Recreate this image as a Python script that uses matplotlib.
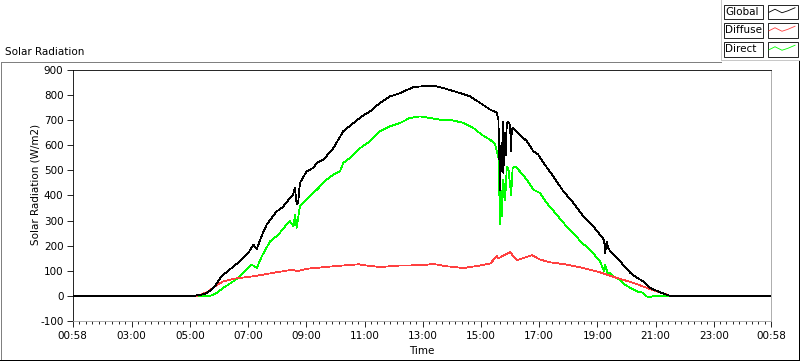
import matplotlib
matplotlib.use("Agg")
import matplotlib.pyplot as plt
from matplotlib.lines import Line2D
from matplotlib.patches import Rectangle
import numpy as np

# ---- data (hours of day, W/m2) ----
global_t = [0.97, 5.11, 5.30, 5.50, 5.58, 5.75, 5.86, 5.95, 6.09, 6.40, 6.72, 7.00, 7.18, 7.30, 7.45,
            7.64, 7.98, 8.10, 8.21, 8.44, 8.55, 8.61, 8.67, 8.72, 8.78, 9.01, 9.24, 9.36, 9.59, 9.64,
            9.93, 10.27, 10.62, 10.90, 11.19, 11.53, 11.88, 12.22, 12.68, 13.00, 13.37, 13.83, 14.29,
            14.63, 14.97, 15.32, 15.54, 15.60, 15.66, 15.70, 15.72, 15.75, 15.77, 15.82, 15.85, 15.89,
            15.94, 16.00, 16.04, 16.06, 16.09, 16.17, 16.34, 16.58, 16.80, 16.97, 17.15, 17.49, 17.83,
            18.18, 18.52, 18.75, 18.86, 19.09, 19.23, 19.27, 19.32, 19.38, 19.44, 19.55, 19.78, 20.13,
            20.36, 20.58, 20.81, 21.16, 21.50, 24.97]
global_v = [0, 0, 3, 8, 12, 25, 38, 55, 78, 108, 138, 170, 204, 187, 235,
            284, 337, 345, 357, 390, 405, 430, 364, 370, 450, 496, 510, 530, 543, 550,
            589, 656, 689, 715, 735, 769, 795, 808, 832, 835, 838, 824, 808,
            795, 769, 742, 731, 702, 423, 600, 503, 695, 490, 650, 560, 689,
            695, 680, 576, 665, 669, 662, 642, 616, 576, 563, 530, 476, 417,
            370, 317, 291, 277, 244, 224, 171, 215, 190, 178, 164, 138, 92,
            72, 58, 32, 14, 0, 0]

diffuse_t = [0.97, 5.24, 5.58, 5.86, 6.15, 6.49, 7.18, 7.87, 8.55, 8.67, 9.01, 9.93, 10.79, 11.08,
             11.53, 12.22, 12.91, 13.37, 13.83, 14.40, 14.97, 15.32, 15.49, 15.54, 15.60, 15.77,
             15.89, 16.00, 16.23, 16.46, 16.75, 17.03, 17.37, 17.94, 18.52, 19.09, 19.66, 20.24,
             20.70, 21.04, 21.39, 21.50, 24.97]
diffuse_v = [0, 0, 14, 38, 58, 68, 78, 92, 105, 98, 108, 118, 126, 121,
             115, 121, 122, 127, 118, 111, 121, 129, 151, 160, 150, 160,
             168, 174, 142, 151, 162, 145, 134, 125, 111, 94, 72, 52,
             32, 18, 5, 0, 0]

direct_t = [0.97, 5.65, 5.80, 5.92, 6.15, 6.49, 6.72, 7.00, 7.12, 7.30, 7.47, 7.76, 8.04, 8.27,
            8.44, 8.56, 8.61, 8.67, 8.78, 9.01, 9.36, 9.70, 9.93, 10.16, 10.27, 10.50, 10.85,
            11.19, 11.53, 11.88, 12.22, 12.56, 12.91, 13.25, 13.60, 14.05, 14.40, 14.74, 15.03,
            15.32, 15.49, 15.60, 15.66, 15.70, 15.72, 15.77, 15.83, 15.89, 15.94, 16.04, 16.09,
            16.17, 16.34, 16.58, 16.80, 17.03, 17.26, 17.60, 17.94, 18.29, 18.41, 18.75, 19.09,
            19.23, 19.27, 19.35, 19.44, 19.55, 19.78, 19.95, 20.13, 20.36, 20.58, 20.70, 20.75,
            20.95, 21.50, 21.60, 24.97]
direct_v = [0, 0, 4, 12, 32, 58, 78, 111, 125, 111, 158, 218, 244, 277,
            297, 277, 324, 271, 357, 384, 423, 463, 483, 496, 530, 550, 589,
            616, 656, 676, 689, 709, 715, 709, 702, 699, 689, 669, 642,
            622, 603, 550, 284, 420, 317, 463, 380, 516, 510, 403, 510,
            516, 496, 463, 423, 410, 370, 324, 277, 237, 217, 184, 138,
            98, 125, 90, 92, 78, 65, 45, 32, 18, 12, -2, -6,
            0, 1, 0, 0]

xtick_pos = [0.9667, 3, 5, 7, 9, 11, 13, 15, 17, 19, 21, 23, 24.9667]
xtick_labels = ["00:58", "03:00", "05:00", "07:00", "09:00", "11:00", "13:00",
                "15:00", "17:00", "19:00", "21:00", "23:00", "00:58"]
ytick_pos = [-100, 0, 100, 200, 300, 400, 500, 600, 700, 800, 900]
series_names = ["Global", "Diffuse", "Direct"]
series_colors = ["#000000", "#ff4040", "#00ff00"]

W, H = 800, 361
FS = 7.5
plt.rcParams['font.family'] = ['DejaVu Sans']

fig = plt.figure(figsize=(W / 100, H / 100), dpi=100)
fig.patch.set_facecolor("white")


def fx(x):
    return x / W


def fy(y):
    return 1 - y / H


ax = fig.add_axes([fx(72.5), fy(321), (771 - 72.5) / W, (321 - 70) / H])
ax.set_facecolor("white")

lw = 0.55
ax.plot(direct_t, direct_v, color=series_colors[2], lw=lw, antialiased=False, zorder=2)
ax.plot(diffuse_t, diffuse_v, color=series_colors[1], lw=lw, antialiased=False, zorder=3)
ax.plot(global_t, global_v, color=series_colors[0], lw=lw, antialiased=False, zorder=4)

ax.set_xlim(0.9667, 24.9667)
ax.set_ylim(-100, 900)
ax.set_xticks(xtick_pos)
ax.set_xticklabels(xtick_labels, fontsize=FS)
minor = []
for a, b in zip(xtick_pos[:-1], xtick_pos[1:]):
    n = 9
    for k in range(1, n):
        minor.append(a + (b - a) * k / n)
ax.set_xticks(minor, minor=True)
ax.set_yticks(ytick_pos)
ax.set_yticklabels([str(v) for v in ytick_pos], fontsize=FS)
ax.tick_params(axis='y', direction='out', length=4.5, width=0.6, pad=2)
ax.tick_params(axis='x', which='major', direction='out', length=4, width=0.6, pad=3)
ax.tick_params(axis='x', which='minor', direction='out', length=2, width=0.6)

for s in ['top', 'left']:
    ax.spines[s].set_color('black')
    ax.spines[s].set_linewidth(0.6)
for s in ['right', 'bottom']:
    ax.spines[s].set_color('#a0a0a0')
    ax.spines[s].set_linewidth(0.6)

# titles / labels
fig.text(fx(5), fy(52), "Solar Radiation", fontsize=FS, ha='left', va='center')
fig.text(fx(35), fy(184), "Solar Radiation (W/m2)", fontsize=FS, ha='center', va='center', rotation=90)
fig.text(fx(421.7), fy(351), "Time", fontsize=FS, ha='center', va='center')

# outer frame
def fline(x0, y0, x1, y1, color, lw=0.6):
    fig.add_artist(Line2D([fx(x0), fx(x1)], [fy(y0), fy(y1)], color=color, lw=lw,
                          transform=fig.transFigure, antialiased=False))

fline(0.5, 61.5, 721, 61.5, '#808080')
fline(0.5, 61.5, 0.5, 360.5, '#808080')
fline(0, 359.5, 800, 359.5, 'black')
fline(798.5, 61, 798.5, 361, 'black')
fline(721, 0, 721, 60, '#c8c8c8')
fline(721, 60, 799, 60, '#c8c8c8')

# legend
rows_y = [(4.5, 19), (23, 37.5), (42, 56.5)]
zig_x = [769, 775, 782, 788, 795]
zig_dy = [0.5, -2.5, 1.0, -1.0, -4.0]
for (y0, y1), name, col in zip(rows_y, series_names, series_colors):
    fig.add_artist(Rectangle((fx(723.5), fy(y1)), (762.5 - 723.5) / W, (y1 - y0) / H,
                             transform=fig.transFigure, facecolor='white', edgecolor='black', lw=0.6))
    fig.add_artist(Rectangle((fx(767.5), fy(y1)), (797.5 - 767.5) / W, (y1 - y0) / H,
                             transform=fig.transFigure, facecolor='white', edgecolor='black', lw=0.6))
    fig.text(fx(725.5), fy((y0 + y1) / 2), name, fontsize=FS, ha='left', va='center')
    yc = (y0 + y1) / 2
    fig.add_artist(Line2D([fx(x) for x in zig_x], [fy(yc + d) for d in zig_dy], color=col, lw=0.6,
                          transform=fig.transFigure))

fig.savefig("out.png", dpi=100)
